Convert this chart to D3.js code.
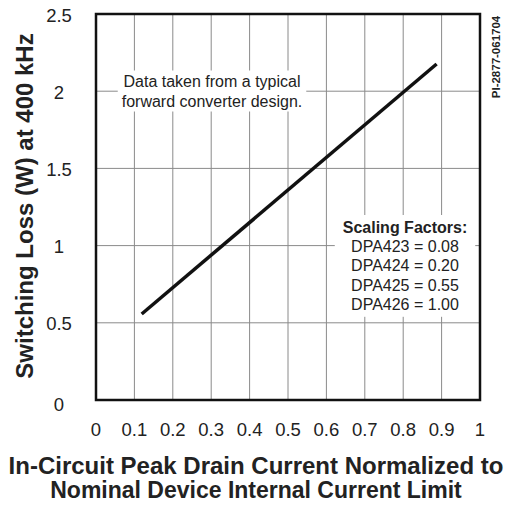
<!DOCTYPE html>
<html>
<head>
<meta charset="utf-8">
<script src="https://cdn.jsdelivr.net/npm/d3@7"></script>
<style>
  body { margin: 0; background: #fff; }
  svg { font-family: "Liberation Sans", Arial, sans-serif; }
</style>
</head>
<body>
<div id="chart"></div>
<script>
// data
const current = [0.119, 0.887];
const loss = [0.557, 2.176];
const xTicks = [0, 0.1, 0.2, 0.3, 0.4, 0.5, 0.6, 0.7, 0.8, 0.9, 1];
const yTicks = [0, 0.5, 1, 1.5, 2, 2.5];
const noteLines = ['Data taken from a typical', 'forward converter design.'];
const factorTitle = 'Scaling Factors:';
const factorLines = ['DPA423 = 0.08', 'DPA424 = 0.20', 'DPA425 = 0.55', 'DPA426 = 1.00'];

const width = 512, height = 506;
const plotL = 96, plotR = 480, plotT = 14, plotB = 400;

const x = d3.scaleLinear().domain([0, 1]).range([plotL, plotR]);
const y = d3.scaleLinear().domain([0, 2.5]).range([plotB, plotT]);

const svg = d3.select('#chart').append('svg')
    .attr('width', width)
    .attr('height', height);

// grid
svg.append('g')
    .selectAll('line')
    .data(xTicks.slice(1, -1))
    .join('line')
    .attr('x1', (d) => x(d)).attr('x2', (d) => x(d))
    .attr('y1', plotT).attr('y2', plotB)
    .attr('stroke', '#8a8a8a').attr('stroke-width', 1);
svg.append('g')
    .selectAll('line')
    .data(yTicks.slice(1, -1))
    .join('line')
    .attr('y1', (d) => y(d)).attr('y2', (d) => y(d))
    .attr('x1', plotL).attr('x2', plotR)
    .attr('stroke', '#8a8a8a').attr('stroke-width', 1);

// tick labels
svg.append('g')
    .selectAll('text')
    .data(xTicks)
    .join('text')
    .attr('x', (d) => x(d))
    .attr('y', 436)
    .attr('text-anchor', 'middle')
    .attr('font-size', 18.5)
    .attr('fill', '#222')
    .text((d) => d);
svg.append('g')
    .selectAll('text')
    .data(yTicks)
    .join('text')
    .attr('x', 59)
    .attr('y', (d) => y(d) + 7.5 + (d === 0 ? 3 : 0))
    .attr('text-anchor', 'middle')
    .attr('font-size', 18.5)
    .attr('fill', '#222')
    .text((d) => d);

// note text boxes (white behind, breaking the grid)
function textBlock(lines, cx, y0, step, padX, padY, bold) {
    const g = svg.append('g');
    g.selectAll('text')
        .data(lines)
        .join('text')
        .attr('x', cx)
        .attr('y', (d, i) => y0 + i * step)
        .attr('text-anchor', 'middle')
        .attr('font-size', 16)
        .attr('font-weight', (d, i) => (bold && i === 0 ? 'bold' : 'normal'))
        .attr('fill', '#222')
        .text((d) => d);
    const b = g.node().getBBox();
    g.insert('rect', 'text')
        .attr('x', b.x - padX).attr('y', b.y - padY)
        .attr('width', b.width + 2 * padX).attr('height', b.height + 2 * padY)
        .attr('fill', '#fff');
}
textBlock(noteLines, 212, 86.5, 20, 4, 2, false);
textBlock([factorTitle].concat(factorLines), 405, 233, 19.2, 8, 4, true);

// frame
svg.append('rect')
    .attr('x', plotL).attr('y', plotT)
    .attr('width', plotR - plotL).attr('height', plotB - plotT)
    .attr('fill', 'none').attr('stroke', '#111').attr('stroke-width', 2.5);

// data line
svg.append('path')
    .datum(current.map((c, i) => [c, loss[i]]))
    .attr('d', d3.line().x((d) => x(d[0])).y((d) => y(d[1])))
    .attr('fill', 'none')
    .attr('stroke', '#111')
    .attr('stroke-width', 3.5);

// axis titles
svg.append('text')
    .attr('transform', 'translate(33,206) rotate(-90)')
    .attr('text-anchor', 'middle')
    .attr('font-size', 24)
    .attr('font-weight', 'bold')
    .attr('fill', '#222')
    .text('Switching Loss (W) at 400 kHz');
svg.append('g')
    .selectAll('text')
    .data(['In-Circuit Peak Drain Current Normalized to', 'Nominal Device Internal Current Limit'])
    .join('text')
    .attr('x', 256)
    .attr('y', (d, i) => 474 + i * 24)
    .attr('text-anchor', 'middle')
    .attr('font-size', (d, i) => (i === 0 ? 24 : 23))
    .attr('font-weight', 'bold')
    .attr('fill', '#222')
    .text((d) => d);

svg.append('text')
    .attr('transform', 'translate(500,57) rotate(-90)')
    .attr('text-anchor', 'middle')
    .attr('font-size', 11.5)
    .attr('font-weight', 'bold')
    .attr('fill', '#222')
    .text('PI-2877-061704');
</script>
</body>
</html>
